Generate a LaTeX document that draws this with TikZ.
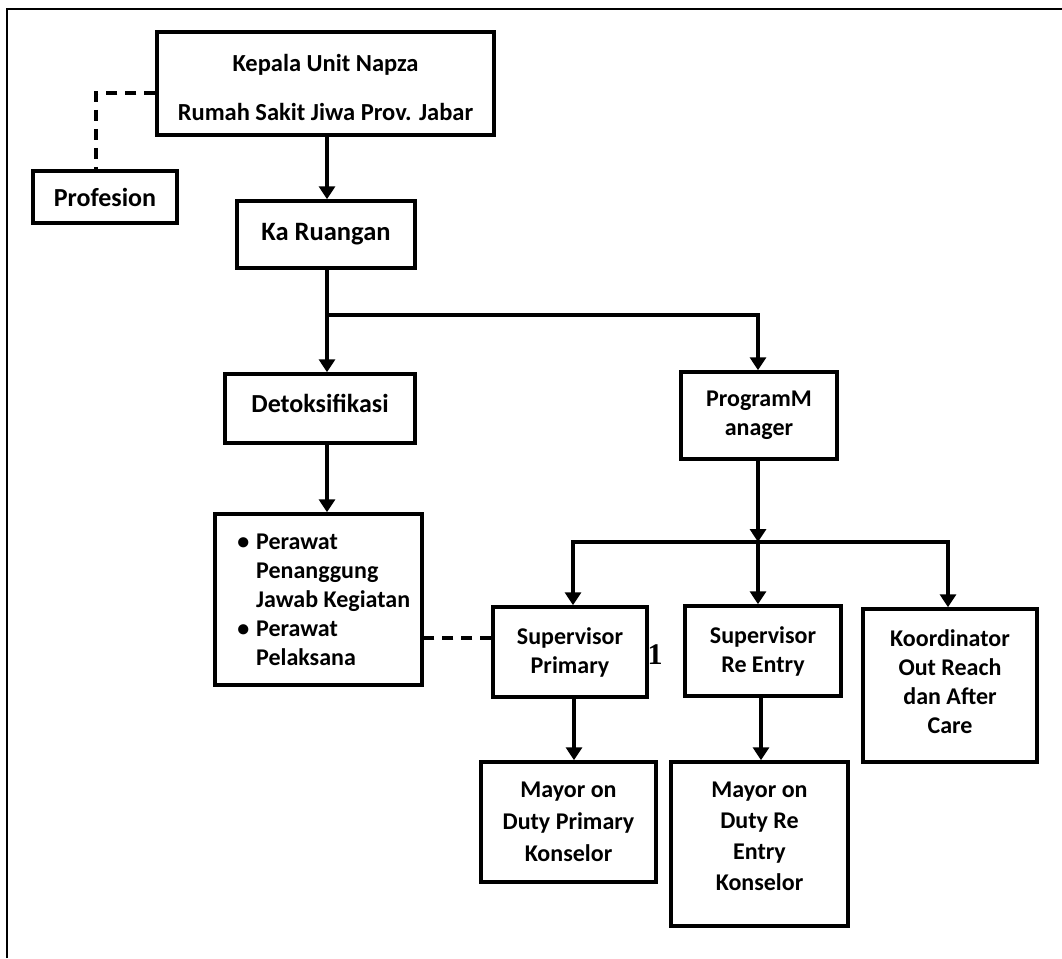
\documentclass[tikz,border=0pt]{standalone}
\usepackage{fontspec}
\setmainfont{Carlito}
\newfontfamily\serifone{Liberation Serif}
\usetikzlibrary{arrows.meta}
\tikzset{
  box/.style={draw, line width=3.5pt, inner sep=0pt, align=center,
    font=\bfseries\fontsize{24}{29}\selectfont},
  plain/.style={inner sep=0pt, align=left,
    font=\bfseries\fontsize{24}{29}\selectfont},
  conn/.style={line width=3.5pt},
  arr/.style={conn, -{Triangle[length=13pt,width=16pt]}},
  dconn/.style={line width=3.5pt, dash pattern=on 11pt off 8pt},
}
\begin{document}
\begin{tikzpicture}[x=1pt,y=1pt]
\useasboundingbox (0,0) rectangle (1062,-958);
% outer frame (cut off at right and bottom)
\draw[line width=2pt] (7,-958) -- (7,-9) -- (1062,-9);

\node[box, minimum width=337pt, minimum height=103pt, font=\bfseries\fontsize{24.5}{29}\selectfont] (kepala) at (325.5,-83.5)
  {\rule{0pt}{26pt}Kepala Unit Napza\\[20pt]Rumah Sakit Jiwa Prov. Jabar};
\node[box, minimum width=144pt, minimum height=52pt, font=\bfseries\fontsize{26}{30}\selectfont] (prof) at (105,-197) {Profesion};
\node[box, minimum width=178pt, minimum height=67pt, font=\bfseries\fontsize{26.5}{30}\selectfont] (karu) at (326,-234.5) {Ka Ruangan};
\node[box, minimum width=190pt, minimum height=69pt, font=\bfseries\fontsize{26}{30}\selectfont] (detok) at (320,-408.5) {Detoksifikasi\rule[-11pt]{0pt}{11pt}};
\node[box, minimum width=207pt, minimum height=171pt] (perawat) at (318.5,-599.5) {};
\node[plain, anchor=west] (pertext) at (256,-600)
  {\llap{•\hspace{7pt}}Perawat\\Penanggung\\Jawab Kegiatan\\\llap{•\hspace{7pt}}Perawat\\Pelaksana};
\node[box, minimum width=156pt, minimum height=87pt] (pm) at (759,-415.5) {ProgramM\\anager};
\node[box, minimum width=154pt, minimum height=90pt] (sp) at (570,-652) {Supervisor\\Primary};
\node[box, minimum width=156pt, minimum height=90pt] (sr) at (763,-651) {Supervisor\\Re Entry};
\node[box, minimum width=174pt, minimum height=153pt] (koord) at (950,-685.5)
  {Koordinator\\Out Reach\\dan After\\Care\\[-21pt]\mbox{}};
\node[box, minimum width=175pt, minimum height=120pt, font=\bfseries\fontsize{24}{32}\selectfont] (mp) at (568.5,-822)
  {Mayor on\\Duty Primary\\Konselor};
\node[box, minimum width=177pt, minimum height=164pt, font=\bfseries\fontsize{24}{31}\selectfont] (mr) at (759.5,-844)
  {Mayor on\\Duty Re\\Entry\\Konselor\\[-15pt]\mbox{}};
\node[inner sep=0pt, font=\serifone\bfseries\fontsize{30}{30}\selectfont] (one) at (655,-655) {1};

% connectors
\coordinate (dk) at (96,-93);
\draw[dconn] ([yshift=-9.5pt]kepala.west) -- (dk) -- (dk |- prof.north);
\draw[arr] ([xshift=1.5pt]kepala.south) -- ([xshift=1.5pt]kepala.south |- karu.north);
\coordinate (b1) at (327,-315);
\draw[conn] (b1 |- karu.south) -- (b1);
\draw[arr] (b1) -- (b1 |- detok.north);
\draw[arr] (b1) -| ([xshift=-1pt]pm.north);
\draw[arr] (b1 |- detok.south) -- (b1 |- perawat.north);
\coordinate (b2) at (758,-542);
\draw[arr] (b2 |- pm.south) -- (b2);
\draw[arr] (b2) -| ([xshift=3pt]sp.north);
\draw[arr] (b2) -- (b2 |- sr.north);
\draw[arr] (b2) -| ([xshift=-2pt]koord.north);
\draw[dconn] ([yshift=14pt]sp.west) -- ([yshift=14pt]sp.west -| perawat.east);
\draw[arr] ([xshift=4pt]sp.south) -- ([xshift=4pt]sp.south |- mp.north);
\draw[arr] ([xshift=-2pt]sr.south) -- ([xshift=-2pt]sr.south |- mr.north);
\end{tikzpicture}
\end{document}
